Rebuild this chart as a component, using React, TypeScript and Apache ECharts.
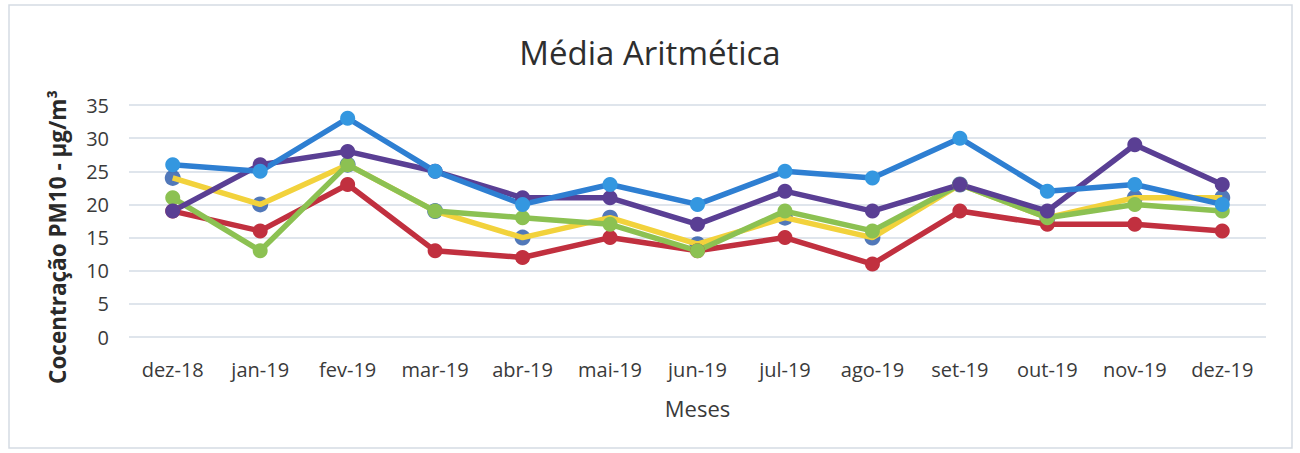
import React, { useEffect, useRef } from "react";
import * as echarts from "echarts";

const categories = ["dez-18", "jan-19", "fev-19", "mar-19", "abr-19", "mai-19", "jun-19", "jul-19", "ago-19", "set-19", "out-19", "nov-19", "dez-19"];
const lightBlue = [26, 25, 33, 25, 20, 23, 20, 25, 24, 30, 22, 23, 20];
const purple = [19, 26, 28, 25, 21, 21, 17, 22, 19, 23, 19, 29, 23];
const red = [19, 16, 23, 13, 12, 15, 13, 15, 11, 19, 17, 17, 16];
const green = [21, 13, 26, 19, 18, 17, 13, 19, 16, 23, 18, 20, 19];
const yellow = [24, 20, 26, 19, 15, 18, 14, 18, 15, 23, 18, 21, 21];
const darkBlue = [24, 20, 26, 19, 15, 18, 14, 18, 15, 23, 18, 21, 21];

const FONT = "'Open Sans', sans-serif";

export default function App() {
  const ref = useRef<HTMLDivElement>(null);
  useEffect(() => {
    document.body.style.margin = "0";
    const chart = echarts.init(ref.current!, null, { renderer: "svg" });
    const lineSeries = (name: string, data: number[], line: string, marker: string) => ({
      name,
      type: "line",
      data,
      symbol: "circle",
      symbolSize: 15,
      lineStyle: { color: line, width: 5.5 },
      itemStyle: { color: marker },
    });
    chart.setOption({
      animation: false,
      backgroundColor: "#ffffff",
      textStyle: { fontFamily: FONT },
      title: {
        text: "Média Aritmética",
        left: "center",
        top: 31,
        textStyle: { fontFamily: FONT, fontSize: 33, fontWeight: "normal", color: "#2e2e2e" },
      },
      grid: { left: 129, right: 34, top: 105, bottom: 116 },
      xAxis: {
        type: "category",
        data: categories,
        boundaryGap: true,
        axisLine: { show: false },
        axisTick: { show: false },
        axisLabel: { fontFamily: FONT, fontSize: 20, color: "#3a3a3a", margin: 22 },
        name: "Meses",
        nameLocation: "middle",
        nameGap: 60,
        nameTextStyle: { fontFamily: FONT, fontSize: 22, color: "#3a3a3a" },
      },
      yAxis: {
        type: "value",
        min: 0,
        max: 35,
        interval: 5,
        axisLine: { show: false },
        axisTick: { show: false },
        axisLabel: { fontFamily: FONT, fontSize: 20, color: "#3a3a3a", margin: 20 },
        splitLine: { lineStyle: { color: "#d5dce6", width: 1.5 } },
      },
      graphic: [
        {
          type: "rect",
          shape: { x: 9, y: 5, width: 1283, height: 443 },
          style: { fill: "none", stroke: "#d5dbe3", lineWidth: 1.5 },
          silent: true,
        },
        {
          type: "text",
          x: 57,
          y: 237,
          rotation: Math.PI / 2,
          style: {
            text: "Cocentração PM10 - µg/m³",
            fontFamily: FONT,
            fontSize: 22.5,
            fontWeight: "bold",
            fill: "#2a2a2a",
            align: "center",
            verticalAlign: "middle",
          },
        },
      ],
      series: [
        {
          name: "Série amarela",
          type: "line",
          data: yellow,
          symbol: "none",
          lineStyle: { color: "#f2d23c", width: 5.5 },
          itemStyle: { color: "#f2d23c" },
        },
        {
          name: "Série azul escura",
          type: "scatter",
          data: darkBlue,
          symbol: "circle",
          symbolSize: 16,
          itemStyle: { color: "#2556a8" },
        },
        lineSeries("Série vermelha", red, "#c1303f", "#c1303f"),
        lineSeries("Série verde", green, "#8cc152", "#8cc152"),
        lineSeries("Série roxa", purple, "#5a3f94", "#5a3f94"),
        lineSeries("Série azul clara", lightBlue, "#2e7fd2", "#3497e0"),
      ],
    });
    return () => chart.dispose();
  }, []);
  return <div ref={ref} style={{ width: 1300, height: 453 }} />;
}
